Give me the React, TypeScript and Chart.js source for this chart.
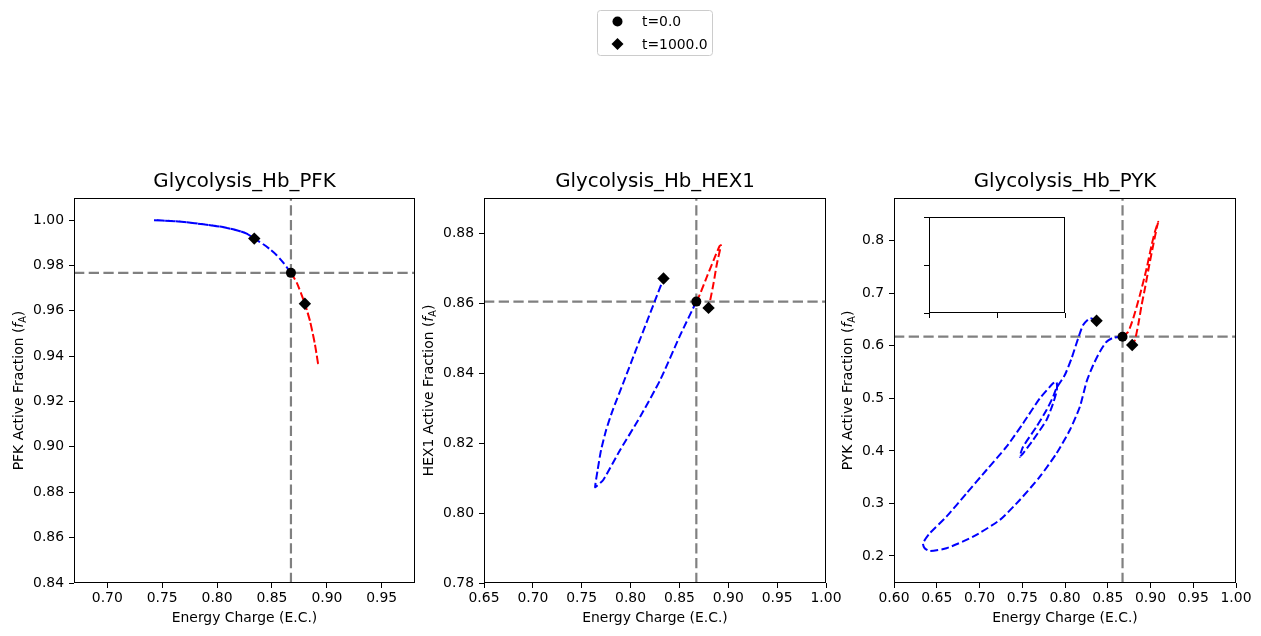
import React, { useEffect, useRef } from 'react';
import { Chart, registerables } from 'chart.js';

Chart.register(...registerables);

const FONT = "'DejaVu Sans', 'Liberation Sans', sans-serif";
Chart.defaults.font.family = FONT;
Chart.defaults.color = '#000';

// Steady-state energy charge shared by the three panels
const EC_REF = 0.8673;

const X_LABEL = 'Energy Charge (E.C.)';
const LEGEND_LABELS = ['t=0.0', 't=1000.0'];

// ---------- Glycolysis_Hb_PFK ----------
const PFK_FA_REF = 0.9767;
const PFK_BLUE_EC = [0.8673, 0.8603, 0.8543, 0.8482, 0.8421, 0.8339, 0.827, 0.8179, 0.8027, 0.7874, 0.7723, 0.7571, 0.7425, 0.7571, 0.7723, 0.7874, 0.8027, 0.8179, 0.827, 0.8339];
const PFK_BLUE_FA = [0.9767, 0.9812, 0.9845, 0.9871, 0.9893, 0.9918, 0.994, 0.9955, 0.9971, 0.9981, 0.999, 0.9996, 0.9999, 0.9996, 0.999, 0.9981, 0.9971, 0.9955, 0.994, 0.9918];
const PFK_RED_EC = [0.8673, 0.8726, 0.88, 0.8847, 0.8892, 0.8922, 0.8892, 0.8847, 0.88];
const PFK_RED_FA = [0.9767, 0.9724, 0.9631, 0.9554, 0.9451, 0.936, 0.9451, 0.9554, 0.9631];
const PFK_X_TICKS = [0.7, 0.75, 0.8, 0.85, 0.9, 0.95];
const PFK_Y_TICKS = [0.84, 0.86, 0.88, 0.9, 0.92, 0.94, 0.96, 0.98, 1.0];

// ---------- Glycolysis_Hb_HEX1 ----------
const HEX1_FA_REF = 0.8604;
const HEX1_BLUE_EC = [0.8673, 0.8508, 0.8303, 0.8098, 0.7893, 0.7722, 0.7658, 0.7637, 0.7663, 0.7698, 0.775, 0.7811, 0.7937, 0.8055, 0.8173, 0.8252, 0.8337];
const HEX1_BLUE_FA = [0.8604, 0.8508, 0.838, 0.8275, 0.818, 0.8095, 0.8078, 0.8074, 0.8123, 0.818, 0.8237, 0.8289, 0.838, 0.8466, 0.8551, 0.8608, 0.867];
const HEX1_RED_EC = [0.8673, 0.8713, 0.8781, 0.8849, 0.891, 0.8925, 0.8884, 0.8849, 0.8815, 0.8798];
const HEX1_RED_FA = [0.8604, 0.8627, 0.8675, 0.8722, 0.8762, 0.8765, 0.8713, 0.8656, 0.8608, 0.8586];
const HEX1_X_TICKS = [0.65, 0.7, 0.75, 0.8, 0.85, 0.9, 0.95, 1.0];
const HEX1_Y_TICKS = [0.78, 0.8, 0.82, 0.84, 0.86, 0.88];

// ---------- Glycolysis_Hb_PYK ----------
const PYK_FA_REF = 0.6173;
const PYK_BLUE_EC = [0.8673, 0.8564, 0.8486, 0.8408, 0.833, 0.8252, 0.8174, 0.8057, 0.7901, 0.7706, 0.7471, 0.7237, 0.6925, 0.6613, 0.6418, 0.6359, 0.6339, 0.6418, 0.6613, 0.6848, 0.7082, 0.7316, 0.751, 0.7706, 0.7861, 0.7901, 0.7905, 0.7861, 0.7784, 0.7627, 0.751, 0.7471, 0.751, 0.7667, 0.7784, 0.7861, 0.7901, 0.7998, 0.8077, 0.8154, 0.8212, 0.8291, 0.8369];
const PYK_BLUE_FA = [0.6173, 0.6154, 0.6078, 0.5888, 0.5635, 0.5317, 0.4841, 0.4398, 0.3954, 0.3509, 0.3066, 0.2685, 0.2367, 0.2147, 0.2095, 0.2147, 0.2242, 0.2432, 0.2748, 0.3193, 0.3637, 0.408, 0.4525, 0.5001, 0.5286, 0.5317, 0.5159, 0.4906, 0.4588, 0.4208, 0.3954, 0.389, 0.408, 0.4461, 0.4778, 0.5031, 0.5197, 0.5444, 0.5762, 0.6143, 0.6396, 0.6523, 0.6478];
const PYK_RED_EC = [0.8673, 0.8739, 0.8798, 0.8876, 0.8955, 0.9013, 0.9052, 0.909, 0.9072, 0.9032, 0.8993, 0.8935, 0.8896, 0.8856, 0.8818, 0.8786];
const PYK_RED_FA = [0.6173, 0.6268, 0.6523, 0.6967, 0.7475, 0.7918, 0.8171, 0.8362, 0.8236, 0.7918, 0.76, 0.7094, 0.6776, 0.6396, 0.611, 0.6015];
const PYK_X_TICKS = [0.6, 0.65, 0.7, 0.75, 0.8, 0.85, 0.9, 0.95, 1.0];
const PYK_Y_TICKS = [0.2, 0.3, 0.4, 0.5, 0.6, 0.7, 0.8];

// Empty inset axes ticks
const INSET_TICKS = [0, 0.5, 1];

const PAGE_W = 1261;
const PAGE_H = 636;
const TICK_SIZE = 13.9;
const GRAY = '#808080';

type Panel = {
  title: string;
  enzyme: string;
  canvasLeft: number;
  spineLeft: number;
  spineRight: number;
  xMin: number; xMax: number; yMin: number; yMax: number;
  xTicks: number[]; yTicks: number[];
  xDec: number; yDec: number;
  faRef: number;
  blueEc: number[]; blueFa: number[];
  redEc: number[]; redFa: number[];
  yLabelX: number;
  legend?: boolean;
};

const PANELS: Panel[] = [
  {
    title: 'Glycolysis_Hb_PFK', enzyme: 'PFK', canvasLeft: 0, spineLeft: 74, spineRight: 415,
    xMin: 0.6697, xMax: 0.9803, yMin: 0.84, yMax: 1.0097, xTicks: PFK_X_TICKS, yTicks: PFK_Y_TICKS,
    xDec: 2, yDec: 2, faRef: PFK_FA_REF, blueEc: PFK_BLUE_EC, blueFa: PFK_BLUE_FA,
    redEc: PFK_RED_EC, redFa: PFK_RED_FA, yLabelX: 23,
  },
  {
    title: 'Glycolysis_Hb_HEX1', enzyme: 'HEX1', canvasLeft: 410, spineLeft: 484, spineRight: 826,
    xMin: 0.65, xMax: 1.0, yMin: 0.78, yMax: 0.89, xTicks: HEX1_X_TICKS, yTicks: HEX1_Y_TICKS,
    xDec: 2, yDec: 2, faRef: HEX1_FA_REF, blueEc: HEX1_BLUE_EC, blueFa: HEX1_BLUE_FA,
    redEc: HEX1_RED_EC, redFa: HEX1_RED_FA, yLabelX: 433, legend: true,
  },
  {
    title: 'Glycolysis_Hb_PYK', enzyme: 'PYK', canvasLeft: 820, spineLeft: 894, spineRight: 1236,
    xMin: 0.6, xMax: 1.0, yMin: 0.1486, yMax: 0.8813, xTicks: PYK_X_TICKS, yTicks: PYK_Y_TICKS,
    xDec: 2, yDec: 1, faRef: PYK_FA_REF, blueEc: PYK_BLUE_EC, blueFa: PYK_BLUE_FA,
    redEc: PYK_RED_EC, redFa: PYK_RED_FA, yLabelX: 852,
  },
];

const RIGHT_PAD = 25;

// Full box around the plotting area (matplotlib-style spines)
const framePlugin = {
  id: 'frame',
  afterDatasetsDraw(chart: any) {
    const { ctx, chartArea } = chart;
    ctx.save();
    ctx.strokeStyle = '#000';
    ctx.lineWidth = 1;
    const l = Math.round(chartArea.left) + 0.5;
    const t = Math.round(chartArea.top) + 0.5;
    const r = Math.round(chartArea.right) - 0.5;
    const b = Math.round(chartArea.bottom) - 0.5;
    ctx.strokeRect(l, t, r - l, b - t);
    ctx.restore();
  },
};

// Rotated y-axis label with an italic f and subscript A
const yLabelPlugin = {
  id: 'yLabel',
  afterDraw(chart: any, _args: any, opts: any) {
    if (!opts || !opts.enzyme) return;
    const { ctx, chartArea } = chart;
    const parts = [
      { text: `${opts.enzyme} Active Fraction (`, font: `${TICK_SIZE}px ${FONT}`, dy: 0 },
      { text: 'f', font: `italic ${TICK_SIZE}px ${FONT}`, dy: 0 },
      { text: 'A', font: `${TICK_SIZE * 0.7}px ${FONT}`, dy: 2.6 },
      { text: ')', font: `${TICK_SIZE}px ${FONT}`, dy: 0 },
    ];
    ctx.save();
    ctx.translate(opts.x, (chartArea.top + chartArea.bottom) / 2);
    ctx.rotate(-Math.PI / 2);
    ctx.fillStyle = '#000';
    ctx.textBaseline = 'alphabetic';
    ctx.textAlign = 'left';
    let total = 0;
    const widths = parts.map((p) => {
      ctx.font = p.font;
      const w = ctx.measureText(p.text).width;
      total += w;
      return w;
    });
    let x = -total / 2;
    parts.forEach((p, i) => {
      ctx.font = p.font;
      ctx.fillText(p.text, x, p.dy);
      x += widths[i];
    });
    ctx.restore();
  },
};

// Figure legend box with the start/end markers
const legendPlugin = {
  id: 'figLegend',
  afterDraw(chart: any, _args: any, opts: any) {
    if (!opts || !opts.show) return;
    const { ctx } = chart;
    const ox = opts.originX;
    ctx.save();
    const bx = 597.5 - ox, by = 10.5, bw = 115, bh = 45, rad = 3;
    ctx.beginPath();
    ctx.moveTo(bx + rad, by);
    ctx.lineTo(bx + bw - rad, by);
    ctx.arcTo(bx + bw, by, bx + bw, by + rad, rad);
    ctx.lineTo(bx + bw, by + bh - rad);
    ctx.arcTo(bx + bw, by + bh, bx + bw - rad, by + bh, rad);
    ctx.lineTo(bx + rad, by + bh);
    ctx.arcTo(bx, by + bh, bx, by + bh - rad, rad);
    ctx.lineTo(bx, by + rad);
    ctx.arcTo(bx, by, bx + rad, by, rad);
    ctx.closePath();
    ctx.fillStyle = 'rgba(255,255,255,0.8)';
    ctx.fill();
    ctx.strokeStyle = '#cccccc';
    ctx.lineWidth = 1;
    ctx.stroke();

    const mx = 617.5 - ox;
    ctx.fillStyle = '#000';
    ctx.beginPath();
    ctx.arc(mx, 21.5, 5, 0, Math.PI * 2);
    ctx.fill();
    ctx.beginPath();
    ctx.moveTo(mx - 6, 44);
    ctx.lineTo(mx, 38);
    ctx.lineTo(mx + 6, 44);
    ctx.lineTo(mx, 50);
    ctx.closePath();
    ctx.fill();

    ctx.font = `${TICK_SIZE}px ${FONT}`;
    ctx.textAlign = 'left';
    ctx.textBaseline = 'alphabetic';
    ctx.fillText(opts.labels[0], 642 - ox, 26);
    ctx.fillText(opts.labels[1], 642 - ox, 48.5);
    ctx.restore();
  },
};

const pts = (xs: number[], ys: number[]) => xs.map((x, i) => ({ x, y: ys[i] }));

function axis(ticks: number[], dec: number, min: number, max: number, padding: number, extra: any) {
  return {
    type: 'linear',
    min,
    max,
    afterBuildTicks: (s: any) => {
      s.ticks = ticks.map((v) => ({ value: v }));
    },
    ticks: {
      callback: (v: any) => Number(v).toFixed(dec),
      font: { size: TICK_SIZE },
      color: '#000',
      padding,
      autoSkip: false,
      maxRotation: 0,
    },
    grid: { display: true, drawOnChartArea: false, drawTicks: true, tickLength: 5, color: '#000', lineWidth: 1 },
    border: { display: false },
    ...extra,
  };
}

function panelConfig(p: Panel): any {
  const blue = pts(p.blueEc, p.blueFa);
  const red = pts(p.redEc, p.redFa);
  const line = (data: any[], color: string, order: number) => ({
    data,
    showLine: true,
    borderColor: color,
    borderWidth: 2,
    borderDash: [7.7, 3.3],
    pointRadius: 0,
    tension: 0.2,
    order,
  });
  const guide = (data: any[]) => ({
    data,
    showLine: true,
    borderColor: GRAY,
    borderWidth: 2.2,
    borderDash: [10.3, 4.4],
    pointRadius: 0,
    tension: 0,
    order: 3,
  });
  return {
    type: 'scatter',
    data: {
      datasets: [
        guide([{ x: p.xMin, y: p.faRef }, { x: p.xMax, y: p.faRef }]),
        guide([{ x: EC_REF, y: p.yMin }, { x: EC_REF, y: p.yMax }]),
        line(blue, '#0000ff', 2),
        line(red, '#ff0000', 2),
        {
          label: LEGEND_LABELS[0],
          data: [{ x: EC_REF, y: p.faRef }],
          pointStyle: 'circle',
          pointRadius: 5,
          pointBackgroundColor: '#000',
          pointBorderWidth: 0,
          order: 0,
        },
        {
          label: LEGEND_LABELS[1],
          data: [blue[blue.length - 1], red[red.length - 1]],
          pointStyle: 'rectRot',
          pointRadius: 6.2,
          pointBackgroundColor: '#000',
          pointBorderWidth: 0,
          order: 0,
        },
      ],
    },
    options: {
      responsive: false,
      animation: false,
      events: [],
      devicePixelRatio: 1,
      layout: { padding: { top: 170, right: RIGHT_PAD, bottom: 0, left: 0 } },
      scales: {
        x: axis(p.xTicks, p.xDec, p.xMin, p.xMax, 2.2, {
          position: 'bottom',
          afterFit: (s: any) => { s.height = 53; },
          title: { display: true, text: X_LABEL, font: { size: TICK_SIZE }, color: '#000', padding: { top: 4, bottom: 9.2 } },
        }),
        y: axis(p.yTicks, p.yDec, p.yMin, p.yMax, 5, {
          position: 'left',
          afterFit: (s: any) => { s.width = p.spineLeft - p.canvasLeft; },
          title: { display: false },
        }),
      },
      plugins: {
        legend: { display: false },
        tooltip: { enabled: false },
        title: {
          display: true,
          text: p.title,
          fullSize: false,
          color: '#000',
          font: { size: 19.8, weight: 'normal', lineHeight: 1.2 },
          padding: { top: 0, bottom: 4.24 },
        },
        yLabel: { enzyme: p.enzyme, x: p.yLabelX - p.canvasLeft },
        figLegend: { show: !!p.legend, originX: p.canvasLeft, labels: LEGEND_LABELS },
      },
    },
    plugins: [framePlugin, yLabelPlugin, legendPlugin],
  };
}

function insetConfig(): any {
  const insetAxis = (extra: any) => ({
    type: 'linear',
    min: 0,
    max: 1,
    afterBuildTicks: (s: any) => {
      s.ticks = INSET_TICKS.map((v) => ({ value: v }));
    },
    ticks: { display: false },
    grid: { display: true, drawOnChartArea: false, drawTicks: true, tickLength: 5, color: '#000', lineWidth: 1 },
    border: { display: false },
    ...extra,
  });
  return {
    type: 'scatter',
    data: { datasets: [] },
    options: {
      responsive: false,
      animation: false,
      events: [],
      devicePixelRatio: 1,
      layout: { padding: { top: 10, right: 10, bottom: 0, left: 0 } },
      scales: {
        x: insetAxis({ position: 'bottom', afterFit: (s: any) => { s.height = 10; } }),
        y: insetAxis({ position: 'left', afterFit: (s: any) => { s.width = 10; } }),
      },
      plugins: { legend: { display: false }, tooltip: { enabled: false }, title: { display: false } },
    },
    plugins: [framePlugin],
  };
}

function ChartCanvas(props: { left: number; top: number; width: number; height: number; make: () => any }) {
  const ref = useRef<HTMLCanvasElement>(null);
  useEffect(() => {
    const chart = new Chart(ref.current as HTMLCanvasElement, props.make());
    return () => chart.destroy();
  }, []);
  return (
    <canvas
      ref={ref}
      width={props.width}
      height={props.height}
      style={{ position: 'absolute', left: props.left, top: props.top, width: props.width, height: props.height }}
    />
  );
}

export default function App() {
  return (
    <div style={{ position: 'fixed', left: 0, top: 0, width: PAGE_W, height: PAGE_H, background: '#fff', overflow: 'hidden' }}>
      {PANELS.map((p) => (
        <ChartCanvas
          key={p.enzyme}
          left={p.canvasLeft}
          top={0}
          width={p.spineRight - p.canvasLeft + RIGHT_PAD}
          height={PAGE_H}
          make={() => panelConfig(p)}
        />
      ))}
      <ChartCanvas left={919} top={207} width={156} height={116} make={insetConfig} />
    </div>
  );
}
